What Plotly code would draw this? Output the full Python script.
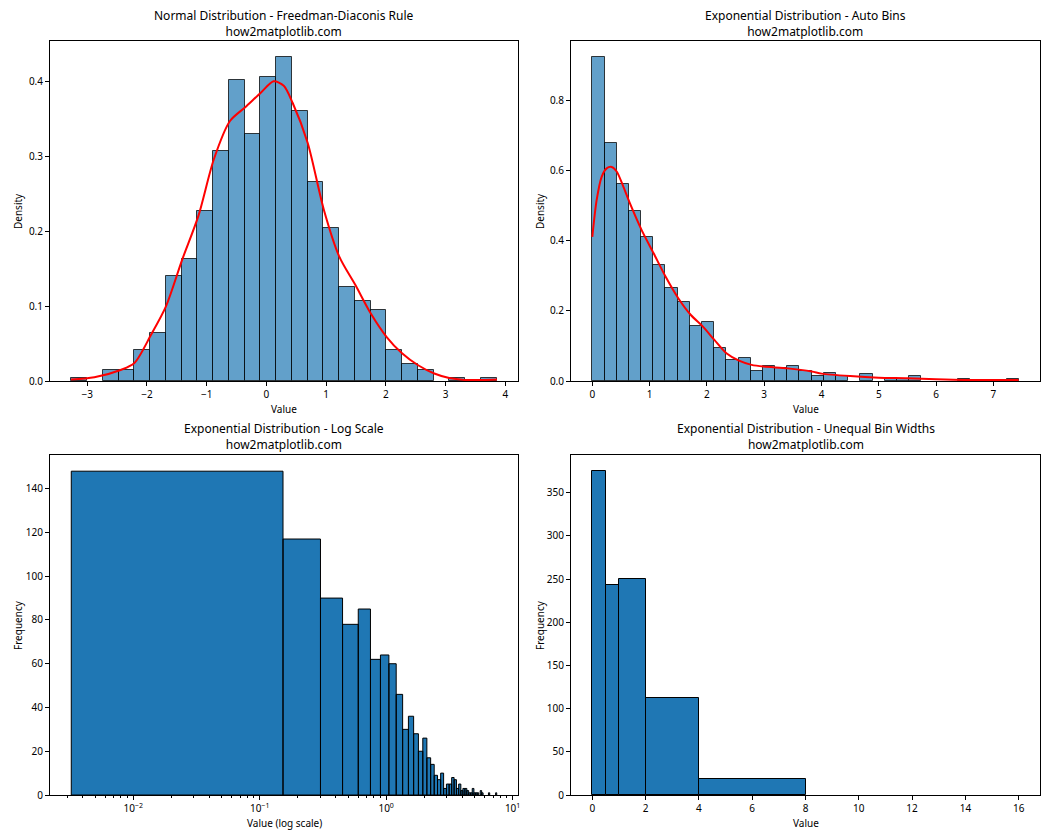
import math
import plotly.graph_objects as go

W, H = 1050, 840
FONT = "Noto Sans"

# ---------------- data ----------------
# Panel 1: normal sample, Freedman-Diaconis bins (density)
norm_start = -3.267
norm_binw = 0.2638
norm_counts = [1, 0, 4, 4, 11, 17, 37, 43, 60, 81, 106, 87, 107, 114, 95, 70, 54,
               33, 28, 25, 11, 6, 4, 0, 1, 0, 1]
norm_kde_x = [-3.27, -2.88, -2.43, -2.21, -1.93, -1.68, -1.41, -1.14, -0.88, -0.61,
              -0.36, -0.09, 0.12, 0.29, 0.44, 0.69, 0.96, 1.22, 1.49, 1.74, 2.01,
              2.27, 2.54, 2.81, 3.06, 3.32, 3.59, 3.86]
norm_kde_y = [0.002, 0.005, 0.015, 0.024, 0.062, 0.100, 0.162, 0.220, 0.296, 0.347,
              0.365, 0.385, 0.400, 0.394, 0.371, 0.318, 0.229, 0.166, 0.128, 0.091,
              0.059, 0.037, 0.021, 0.010, 0.004, 0.0015, 0.0013, 0.002]

# Panel 2: exponential sample, auto bins (density)
exp_start = 0.0
exp_binw = 0.2126
exp_counts = [196, 144, 119, 103, 87, 70, 56, 48, 33, 36, 20, 13, 14, 6, 9, 8, 9, 6,
              3, 5, 3, 0, 4, 0, 1, 1, 3, 0, 0, 0, 1, 0, 0, 0, 1]
exp_kde_x = [0.0, 0.076, 0.163, 0.25, 0.337, 0.425, 0.541, 0.657, 0.861, 1.07, 1.28,
             1.50, 1.72, 1.93, 2.13, 2.34, 2.56, 2.78, 2.99, 3.41, 3.83, 4.0, 4.5,
             5.0, 5.5, 6.0, 6.5, 7.0, 7.44]
exp_kde_y = [0.411, 0.516, 0.582, 0.606, 0.610, 0.597, 0.554, 0.506, 0.430, 0.364,
             0.297, 0.236, 0.188, 0.155, 0.117, 0.079, 0.058, 0.046, 0.041, 0.036,
             0.027, 0.021, 0.014, 0.0095, 0.008, 0.005, 0.003, 0.003, 0.003]

# Panel 3: exponential sample, 50 linear bins shown on log x (frequency)
log_start = 0.00324
log_binw = 0.1497
log_counts = [148, 117, 90, 78, 85, 62, 64, 60, 46, 30, 36, 28, 20, 26, 17, 14, 9, 7,
              10, 3, 5, 5, 8, 7, 3, 5, 2, 3, 3, 2, 1, 1, 3, 1, 1, 1, 0, 2, 1, 0, 0, 0,
              0, 1, 0, 0, 0, 0, 0, 1]

# Panel 4: unequal bin widths (frequency)
uneq_edges = [0, 0.5, 1, 2, 4, 8, 16]
uneq_counts = [375, 243, 250, 112, 19, 0]

titles = ["Normal Distribution - Freedman-Diaconis Rule",
          "Exponential Distribution - Auto Bins",
          "Exponential Distribution - Log Scale",
          "Exponential Distribution - Unequal Bin Widths"]
subtitle = "how2matplotlib.com"
xlabels = ["Value", "Value", "Value (log scale)", "Value"]
ylabels = ["Density", "Density", "Frequency", "Frequency"]

# ---------------- helpers ----------------
def uniform_bins(start, w, counts):
    return [start + i * w for i in range(len(counts) + 1)]

def density(counts, w):
    n = sum(counts)
    return [c / (n * w) for c in counts]

def bar_arrays(edges, heights):
    xs, ys, ws = [], [], []
    for i, h in enumerate(heights):
        if h <= 0:
            continue
        xs.append((edges[i] + edges[i + 1]) / 2)
        ws.append(edges[i + 1] - edges[i])
        ys.append(h)
    return xs, ys, ws

fig = go.Figure()

LIGHT = "rgba(31,119,180,0.7)"
DARK = "#1f77b4"
EDGE_LIGHT = "rgba(0,0,0,0.75)"

# Panel 1
e1 = uniform_bins(norm_start, norm_binw, norm_counts)
d1 = density(norm_counts, norm_binw)
bx, by, bw = bar_arrays(e1, d1)
fig.add_trace(go.Bar(x=bx, y=by, width=bw,
                     marker=dict(color=LIGHT, line=dict(color=EDGE_LIGHT, width=1)),
                     xaxis="x", yaxis="y", showlegend=False))
fig.add_trace(go.Scatter(x=norm_kde_x, y=norm_kde_y, mode="lines",
                         line=dict(color="red", width=2, shape="spline", smoothing=0.8),
                         xaxis="x", yaxis="y", showlegend=False))

# Panel 2
e2 = uniform_bins(exp_start, exp_binw, exp_counts)
d2 = density(exp_counts, exp_binw)
bx, by, bw = bar_arrays(e2, d2)
fig.add_trace(go.Bar(x=bx, y=by, width=bw,
                     marker=dict(color=LIGHT, line=dict(color=EDGE_LIGHT, width=1)),
                     xaxis="x2", yaxis="y2", showlegend=False))
fig.add_trace(go.Scatter(x=exp_kde_x, y=exp_kde_y, mode="lines",
                         line=dict(color="red", width=2, shape="spline", smoothing=0.8),
                         xaxis="x2", yaxis="y2", showlegend=False))

# Panel 3 (log x): bars as filled rectangles
e3 = uniform_bins(log_start, log_binw, log_counts)
px, py = [], []
for i, c in enumerate(log_counts):
    if c <= 0:
        continue
    px += [e3[i], e3[i], e3[i + 1], e3[i + 1], e3[i], None]
    py += [0, c, c, 0, 0, None]
fig.add_trace(go.Scatter(x=px, y=py, mode="lines", fill="toself", fillcolor=DARK,
                         line=dict(color="black", width=1),
                         xaxis="x3", yaxis="y3", showlegend=False))

# Panel 4
bx, by, bw = bar_arrays(uneq_edges, uneq_counts)
fig.add_trace(go.Bar(x=bx, y=by, width=bw,
                     marker=dict(color=DARK, line=dict(color="black", width=1)),
                     xaxis="x4", yaxis="y4", showlegend=False))

# ---------------- layout ----------------
cols = [(50, 518), (571, 1040)]
rows = [(41, 381), (455, 795)]

def xdom(c):
    return [cols[c][0] / W, cols[c][1] / W]

def ydom(r):
    return [1 - rows[r][1] / H, 1 - rows[r][0] / H]

tickfont = dict(family=FONT, size=10, color="black")
common = dict(showline=True, linecolor="black", linewidth=1, mirror=True,
              ticks="outside", ticklen=4, tickwidth=1, tickcolor="black",
              showgrid=False, zeroline=False, tickfont=tickfont, automargin=False)

def pad(lo, hi):
    m = 0.05 * (hi - lo)
    return [lo - m, hi + m]

x1r = pad(e1[0], e1[-1])
x2r = pad(e2[0], e2[-1])
l3 = pad(math.log10(e3[0]), math.log10(e3[-1]))
x4r = pad(uneq_edges[0], uneq_edges[-1])

minor_vals = [m * 10 ** k for k in range(-3, 2) for m in range(2, 10)]

fig.update_layout(
    template="none",
    width=W, height=H, margin=dict(l=0, r=0, t=0, b=0, autoexpand=False),
    plot_bgcolor="white", paper_bgcolor="white", bargap=0,
    font=dict(family=FONT, color="black"),
    xaxis=dict(domain=xdom(0), anchor="y", range=x1r, tickvals=list(range(-3, 5)), **common),
    yaxis=dict(domain=ydom(0), anchor="x", range=[0, 1.05 * max(d1)],
               tickvals=[0, 0.1, 0.2, 0.3, 0.4], tickformat=".1f", **common),
    xaxis2=dict(domain=xdom(1), anchor="y2", range=x2r, tickvals=list(range(0, 8)), **common),
    yaxis2=dict(domain=ydom(0), anchor="x2", range=[0, 1.05 * max(d2)],
                tickvals=[0, 0.2, 0.4, 0.6, 0.8], tickformat=".1f", **common),
    xaxis3=dict(domain=xdom(0), anchor="y3", type="log", range=l3,
                tickvals=[0.01, 0.1, 1, 10],
                ticktext=["10<sup>−2</sup>", "10<sup>−1</sup>", "10<sup>0</sup>", "10<sup>1</sup>"],
                minor=dict(ticks="outside", ticklen=2, tickcolor="black", tickvals=minor_vals,
                           showgrid=False),
                **common),
    yaxis3=dict(domain=ydom(1), anchor="x3", range=[0, 1.05 * max(log_counts)],
                tickvals=list(range(0, 141, 20)), **common),
    xaxis4=dict(domain=xdom(1), anchor="y4", range=x4r, tickvals=list(range(0, 17, 2)), **common),
    yaxis4=dict(domain=ydom(1), anchor="x4", range=[0, 1.05 * max(uneq_counts)],
                tickvals=list(range(0, 351, 50)), **common),
)

ann = []
for k in range(4):
    c, r = k % 2, k // 2
    xc = (cols[c][0] + cols[c][1]) / 2 / W
    ann.append(dict(text=titles[k] + "<br>" + subtitle, x=xc, y=1 - (rows[r][0] + 0.5) / H,
                    xref="paper", yref="paper", xanchor="center", yanchor="bottom",
                    showarrow=False, font=dict(family=FONT, size=12, color="black")))
    ann.append(dict(text=xlabels[k], x=xc, y=1 - (rows[r][1] + 28) / H,
                    xref="paper", yref="paper", xanchor="center", yanchor="middle",
                    showarrow=False, font=dict(family=FONT, size=10, color="black")))
    ylab_x = [18, 540][c]
    ann.append(dict(text=ylabels[k], x=ylab_x / W, y=1 - (rows[r][0] + rows[r][1]) / 2 / H,
                    xref="paper", yref="paper", xanchor="center", yanchor="middle",
                    textangle=-90, showarrow=False,
                    font=dict(family=FONT, size=10, color="black")))
fig.update_layout(annotations=ann)

fig.write_html("out.html", config={"displayModeBar": False},
               post_script="document.body.style.margin='0';document.body.style.overflow='hidden';")
